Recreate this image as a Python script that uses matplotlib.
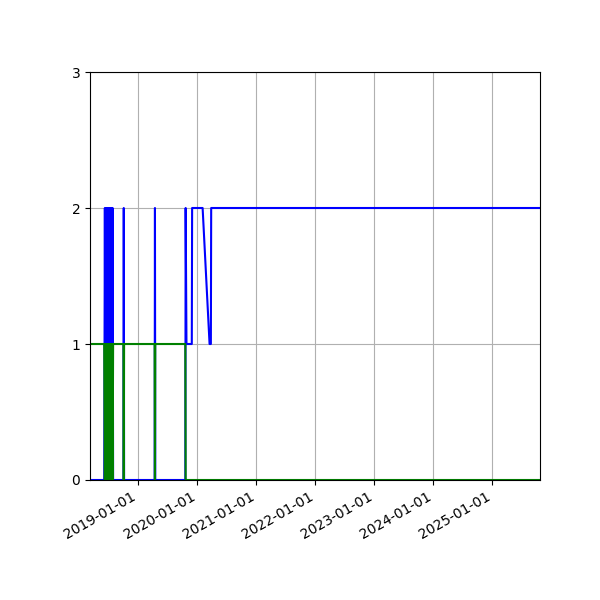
import matplotlib
matplotlib.use("Agg")
import matplotlib.pyplot as plt
import matplotlib.dates as mdates
import pandas as pd

# shared dates for both series
dates = [
    "2018-03-08", "2018-06-04", "2018-06-08", "2018-06-12", "2018-06-16",
    "2018-06-20", "2018-06-24", "2018-06-28", "2018-07-02", "2018-07-06",
    "2018-07-10", "2018-07-14", "2018-07-18", "2018-07-22", "2018-07-26",
    "2018-07-29", "2018-10-01", "2018-10-03", "2018-10-05", "2019-04-12",
    "2019-04-14", "2019-04-16", "2019-10-19", "2019-10-21", "2019-10-26",
    "2019-11-28", "2019-11-30", "2020-02-03", "2020-03-17", "2020-03-25",
    "2020-03-27", "2025-10-22",
]
blue_vals = [0, 0, 2, 0, 2, 0, 2, 0, 2, 0, 2, 0, 2, 0, 2, 0,
             0, 2, 0, 0, 2, 0, 0, 2, 1, 1, 2, 2, 1, 1, 2, 2]
green_vals = [1, 1, 0, 1, 0, 1, 0, 1, 0, 1, 0, 1, 0, 1, 0, 1,
              1, 0, 1, 1, 0, 1, 1, 0, 0, 0, 0, 0, 0, 0, 0, 0]

x = pd.to_datetime(dates)

fig, ax = plt.subplots(figsize=(6, 6), dpi=100)
ax.plot(x, blue_vals, 'b-')
ax.plot(x, green_vals, 'g-')

ax.set_xlim(x[0], x[-1])
ax.set_ylim(0, 3)
ax.set_yticks([0, 1, 2, 3])
ax.xaxis.set_major_locator(mdates.YearLocator())
ax.xaxis.set_major_formatter(mdates.DateFormatter('%Y-%m-%d'))
ax.grid(True)

fig.autofmt_xdate()
plt.subplots_adjust(left=0.15, right=0.9, top=0.88, bottom=0.2)
plt.savefig("out.png")
